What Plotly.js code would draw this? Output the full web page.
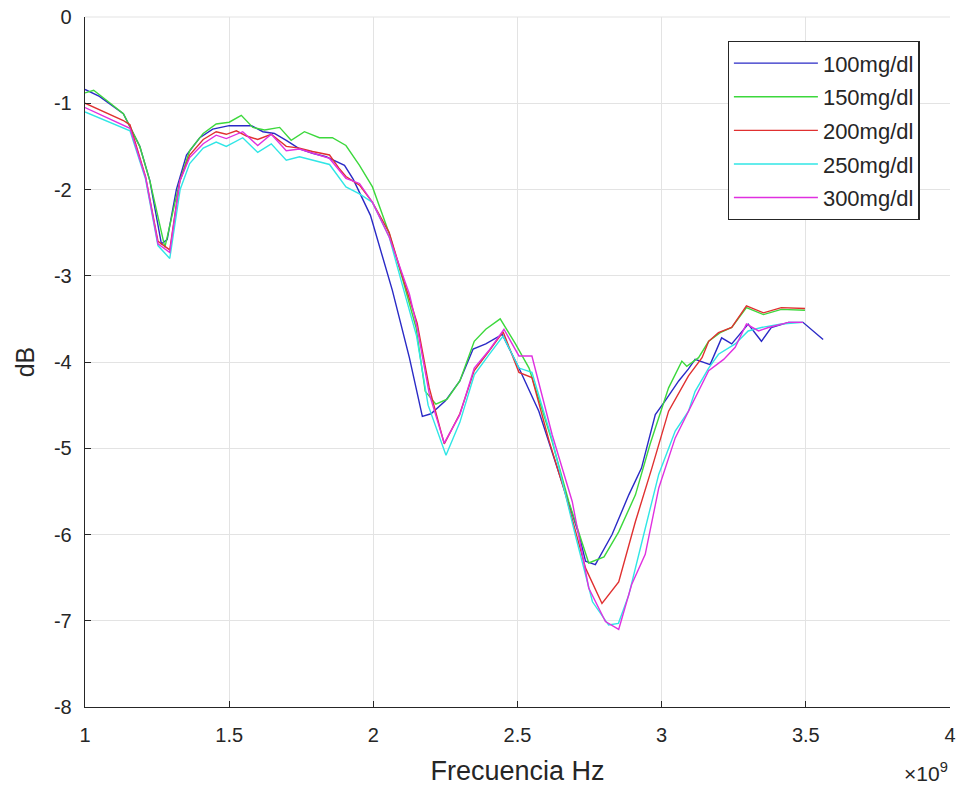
<!DOCTYPE html>
<html>
<head>
<meta charset="utf-8">
<script src="https://cdn.plot.ly/plotly-3.0.1.min.js"></script>
<style>html,body{margin:0;padding:0;background:#fff;}#chart{width:963px;height:792px;}</style>
</head>
<body>
<div id="chart"></div>
<script>
// Frequencies in units of 1e9 Hz, values in dB
const seriesNames = ["100mg/dl", "150mg/dl", "200mg/dl", "250mg/dl", "300mg/dl"];

const freq100 = [1.0, 1.05, 1.133, 1.156, 1.19, 1.225, 1.265, 1.285, 1.317, 1.352, 1.398, 1.443, 1.50, 1.577, 1.617, 1.657, 1.698, 1.744, 1.789, 1.836, 1.90, 1.93, 1.955, 1.99, 2.066, 2.125, 2.17, 2.20, 2.25, 2.30, 2.346, 2.39, 2.447, 2.505, 2.574, 2.644, 2.713, 2.736, 2.77, 2.828, 2.886, 2.93, 2.978, 3.012, 3.059, 3.093, 3.116, 3.168, 3.208, 3.243, 3.30, 3.346, 3.38, 3.44, 3.49, 3.56];
const db100 = [-0.84, -0.92, -1.12, -1.27, -1.5, -1.9, -2.63, -2.58, -2.0, -1.6, -1.4, -1.3, -1.26, -1.26, -1.33, -1.35, -1.43, -1.53, -1.58, -1.62, -1.72, -1.88, -2.05, -2.3, -3.17, -3.95, -4.63, -4.6, -4.45, -4.22, -3.85, -3.79, -3.68, -4.07, -4.57, -5.3, -6.0, -6.31, -6.35, -6.0, -5.54, -5.23, -4.61, -4.45, -4.22, -4.08, -3.97, -4.03, -3.72, -3.79, -3.56, -3.76, -3.60, -3.54, -3.54, -3.74];

const freq150 = [1.0, 1.03, 1.08, 1.133, 1.156, 1.19, 1.225, 1.277, 1.329, 1.363, 1.41, 1.455, 1.50, 1.542, 1.582, 1.623, 1.675, 1.715, 1.761, 1.813, 1.858, 1.905, 1.952, 1.997, 2.055, 2.10, 2.148, 2.18, 2.217, 2.256, 2.30, 2.35, 2.39, 2.44, 2.493, 2.54, 2.62, 2.678, 2.747, 2.80, 2.851, 2.909, 2.96, 3.024, 3.07, 3.087, 3.128, 3.163, 3.203, 3.243, 3.294, 3.353, 3.415, 3.497];
const db150 = [-0.88, -0.85, -0.98, -1.12, -1.27, -1.5, -1.9, -2.67, -1.9, -1.55, -1.35, -1.24, -1.22, -1.14, -1.28, -1.31, -1.28, -1.43, -1.33, -1.40, -1.40, -1.49, -1.72, -1.97, -2.51, -3.02, -3.60, -4.34, -4.49, -4.43, -4.22, -3.76, -3.62, -3.50, -3.79, -4.07, -4.92, -5.62, -6.33, -6.26, -5.97, -5.54, -4.95, -4.3, -3.99, -4.05, -3.95, -3.76, -3.66, -3.60, -3.37, -3.45, -3.39, -3.40];

const freq200 = [1.0, 1.133, 1.156, 1.21, 1.253, 1.294, 1.329, 1.363, 1.41, 1.455, 1.49, 1.525, 1.56, 1.599, 1.646, 1.698, 1.744, 1.789, 1.848, 1.88, 1.905, 1.952, 1.997, 2.055, 2.10, 2.152, 2.194, 2.246, 2.30, 2.35, 2.40, 2.45, 2.505, 2.55, 2.61, 2.667, 2.736, 2.793, 2.851, 2.909, 2.966, 3.024, 3.093, 3.14, 3.163, 3.197, 3.243, 3.294, 3.353, 3.415, 3.497];
const db200 = [-1.0, -1.2, -1.25, -1.85, -2.6, -2.7, -1.9, -1.6, -1.42, -1.33, -1.36, -1.32, -1.38, -1.42, -1.36, -1.5, -1.52, -1.56, -1.6, -1.75, -1.85, -1.95, -2.15, -2.5, -3.0, -3.55, -4.3, -4.95, -4.6, -4.1, -3.88, -3.65, -4.12, -4.18, -4.92, -5.54, -6.39, -6.80, -6.55, -5.85, -5.23, -4.57, -4.16, -3.95, -3.76, -3.66, -3.60, -3.35, -3.43, -3.37, -3.38];

const freq250 = [1.0, 1.133, 1.156, 1.21, 1.253, 1.294, 1.33, 1.363, 1.41, 1.455, 1.49, 1.547, 1.599, 1.646, 1.698, 1.744, 1.789, 1.848, 1.905, 1.952, 1.997, 2.055, 2.10, 2.15, 2.19, 2.252, 2.30, 2.35, 2.40, 2.45, 2.505, 2.55, 2.62, 2.70, 2.76, 2.816, 2.85, 2.886, 2.943, 2.99, 3.047, 3.093, 3.116, 3.163, 3.197, 3.255, 3.30, 3.346, 3.415, 3.49];
const db250 = [-1.1, -1.28, -1.32, -1.88, -2.65, -2.8, -2.0, -1.7, -1.52, -1.45, -1.5, -1.40, -1.57, -1.47, -1.66, -1.62, -1.66, -1.71, -1.97, -2.05, -2.15, -2.55, -3.1, -3.7, -4.5, -5.08, -4.7, -4.15, -3.92, -3.70, -4.07, -4.12, -4.9, -6.0, -6.78, -7.05, -7.03, -6.7, -5.93, -5.3, -4.8, -4.57, -4.34, -4.07, -3.91, -3.79, -3.64, -3.60, -3.56, -3.54];

const freq300 = [1.0, 1.133, 1.156, 1.21, 1.253, 1.294, 1.329, 1.363, 1.41, 1.455, 1.49, 1.547, 1.599, 1.646, 1.698, 1.744, 1.789, 1.848, 1.905, 1.952, 1.997, 2.055, 2.125, 2.152, 2.194, 2.246, 2.30, 2.35, 2.40, 2.453, 2.505, 2.55, 2.62, 2.69, 2.747, 2.805, 2.851, 2.896, 2.943, 2.99, 3.047, 3.116, 3.163, 3.215, 3.255, 3.294, 3.336, 3.37, 3.44, 3.49];
const db300 = [-1.05, -1.26, -1.29, -1.86, -2.63, -2.73, -1.9, -1.63, -1.47, -1.37, -1.41, -1.33, -1.49, -1.36, -1.55, -1.53, -1.58, -1.64, -1.87, -1.93, -2.15, -2.55, -3.21, -3.60, -4.37, -4.94, -4.61, -4.07, -3.87, -3.62, -3.93, -3.93, -4.84, -5.62, -6.62, -7.01, -7.1, -6.58, -6.23, -5.46, -4.88, -4.42, -4.1, -3.97, -3.83, -3.56, -3.64, -3.60, -3.54, -3.54];

const xTickVals = [1, 1.5, 2, 2.5, 3, 3.5, 4];
const xTickText = ["1", "1.5", "2", "2.5", "3", "3.5", "4"];
const yTickVals = [0, -1, -2, -3, -4, -5, -6, -7, -8];
const yTickText = ["0", "-1", "-2", "-3", "-4", "-5", "-6", "-7", "-8"];

const colors = ["#2a2ac6", "#3cd83c", "#e03030", "#30e6e6", "#e030e0"];
const xs = [freq100, freq150, freq200, freq250, freq300];
const ys = [db100, db150, db200, db250, db300];

const traces = seriesNames.map((n, i) => ({
  type: "scatter", mode: "lines", name: n, x: xs[i], y: ys[i],
  line: {color: colors[i], width: 1.4}, legendgroup: "g" + i
}));

const fontFam = "Liberation Sans, Arial, sans-serif";
const layout = {
  width: 963, height: 792,
  margin: {l: 85, r: 13, t: 17, b: 85},
  paper_bgcolor: "#ffffff", plot_bgcolor: "#ffffff",
  font: {family: fontFam, color: "#262626", size: 20},
  showlegend: true,
  legend: {
    x: 0.743, y: 0.965, xanchor: "left", yanchor: "top",
    bordercolor: "#262626", borderwidth: 1.2, bgcolor: "#ffffff",
    font: {family: fontFam, size: 22, color: "#262626"},
    tracegroupgap: 2, traceorder: "grouped", itemwidth: 84
  },
  xaxis: {
    range: [1, 4], tickvals: xTickVals, ticktext: xTickText,
    showgrid: true, gridcolor: "#e3e3e3", gridwidth: 1,
    showline: true, linecolor: "#262626", linewidth: 1.3,
    ticks: "inside", ticklen: 6, tickcolor: "#262626",
    zeroline: false, ticklabelstandoff: 10,
    tickfont: {size: 20, color: "#262626"},
    title: {text: "Frecuencia Hz", font: {size: 27, color: "#262626"}, standoff: 15}
  },
  yaxis: {
    range: [-8, 0], tickvals: yTickVals, ticktext: yTickText,
    showgrid: true, gridcolor: "#e3e3e3", gridwidth: 1,
    showline: true, linecolor: "#262626", linewidth: 1.3,
    ticks: "inside", ticklen: 6, tickcolor: "#262626",
    zeroline: false, ticklabelstandoff: 8,
    tickfont: {size: 20, color: "#262626"},
    title: {text: "dB", font: {size: 25, color: "#262626"}, standoff: 12}
  },
  shapes: [
    {type: "line", xref: "paper", yref: "paper", x0: 0, x1: 1, y0: 1, y1: 1, line: {color: "#e3e3e3", width: 1}}
  ],
  annotations: [
    {xref: "paper", yref: "paper", x: 1.0, y: 0, xanchor: "right", yanchor: "top", yshift: -50,
     text: "×10<sup>9</sup>", showarrow: false, font: {size: 21, color: "#262626"}}
  ]
};

Plotly.newPlot("chart", traces, layout, {displayModeBar: false, staticPlot: true});
</script>
</body>
</html>
